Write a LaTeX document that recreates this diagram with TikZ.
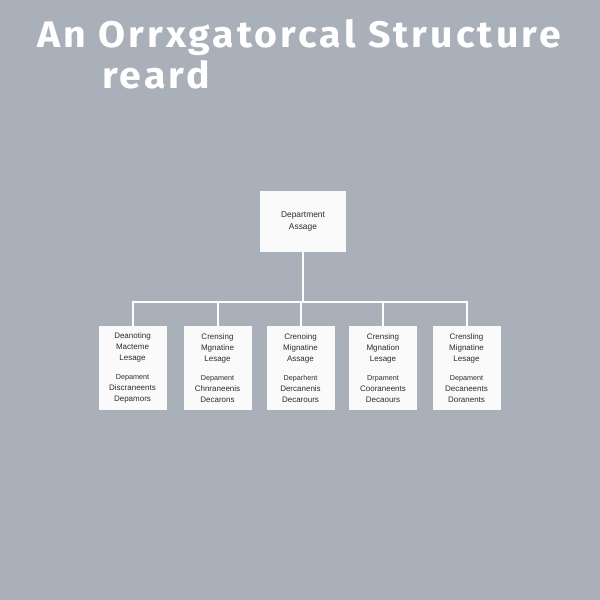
\documentclass[tikz,border=0pt]{standalone}
\usepackage{fontspec}
\newfontfamily\titlefont[LetterSpace=8.3, FakeStretch=1.06]{Fira Sans}
\newfontfamily\boxfont{Liberation Sans}
\definecolor{bggray}{RGB}{170,176,185}
\definecolor{boxtext}{RGB}{45,45,45}

\tikzset{
  boss/.style={draw=none, fill=white!98!black, minimum width=86pt, minimum height=61pt,
    align=center, text=boxtext, font=\boxfont\fontsize{8.4}{12}\selectfont},
  unit/.style={draw=none, fill=white!98!black, minimum width=68pt, minimum height=84pt,
    align=center, text=boxtext, inner sep=0pt, font=\boxfont\fontsize{8}{11}\selectfont},
  link/.style={draw=white, line width=2pt},
  headline/.style={anchor=base west, inner sep=0pt, text=white,
    font=\titlefont\bfseries\fontsize{37}{40}\selectfont},
}
\newcommand{\sub}[1]{\fontsize{7.2}{10}\selectfont #1}

\begin{document}
\begin{tikzpicture}[x=1pt, y=-1pt]
  \fill[bggray] (0,0) rectangle (600,600);
  \useasboundingbox (0,0) rectangle (600,600);

  % title
  \node[headline] (title1) at (37,47) {An Orrxgatorcal Structure};
  \node[headline] (title2) at (102,88) {reard};

  % boxes
  \node[boss] (head) at (303,221.5) {Department\\Assage};
  \node[unit] (d1) at (132.5,368.3) {Deanoting\\Macteme\\Lesage\\[8pt]\sub{Depament\\Discraneents\\Depamors}};
  \node[unit] (d2) at (217.5,368.3) {Crensing\\Mgnatine\\Lesage\\[8pt]\sub{Depament\\Chnraneenis\\Decarons}};
  \node[unit] (d3) at (300.5,368.3) {Crenoing\\Mignatine\\Assage\\[8pt]\sub{Deparhent\\Dercanenis\\Decarours}};
  \node[unit] (d4) at (383,368.3) {Crensing\\Mgnation\\Lesage\\[8pt]\sub{Drpament\\Cooraneents\\Decaours}};
  \node[unit] (d5) at (466.5,368.3) {Crensling\\Mignatine\\Lesage\\[8pt]\sub{Depament\\Decaneents\\Doranents}};

  % connectors
  \coordinate (bar) at (0,302);
  \draw[link] (head.south) -- (head.south |- bar);
  \draw[link] (d1.north) -- (d1.north |- bar) -- (d5.north |- bar) -- (d5.north);
  \draw[link] (d2.north) -- (d2.north |- bar);
  \draw[link] (d3.north) -- (d3.north |- bar);
  \draw[link] (d4.north) -- (d4.north |- bar);
\end{tikzpicture}
\end{document}
